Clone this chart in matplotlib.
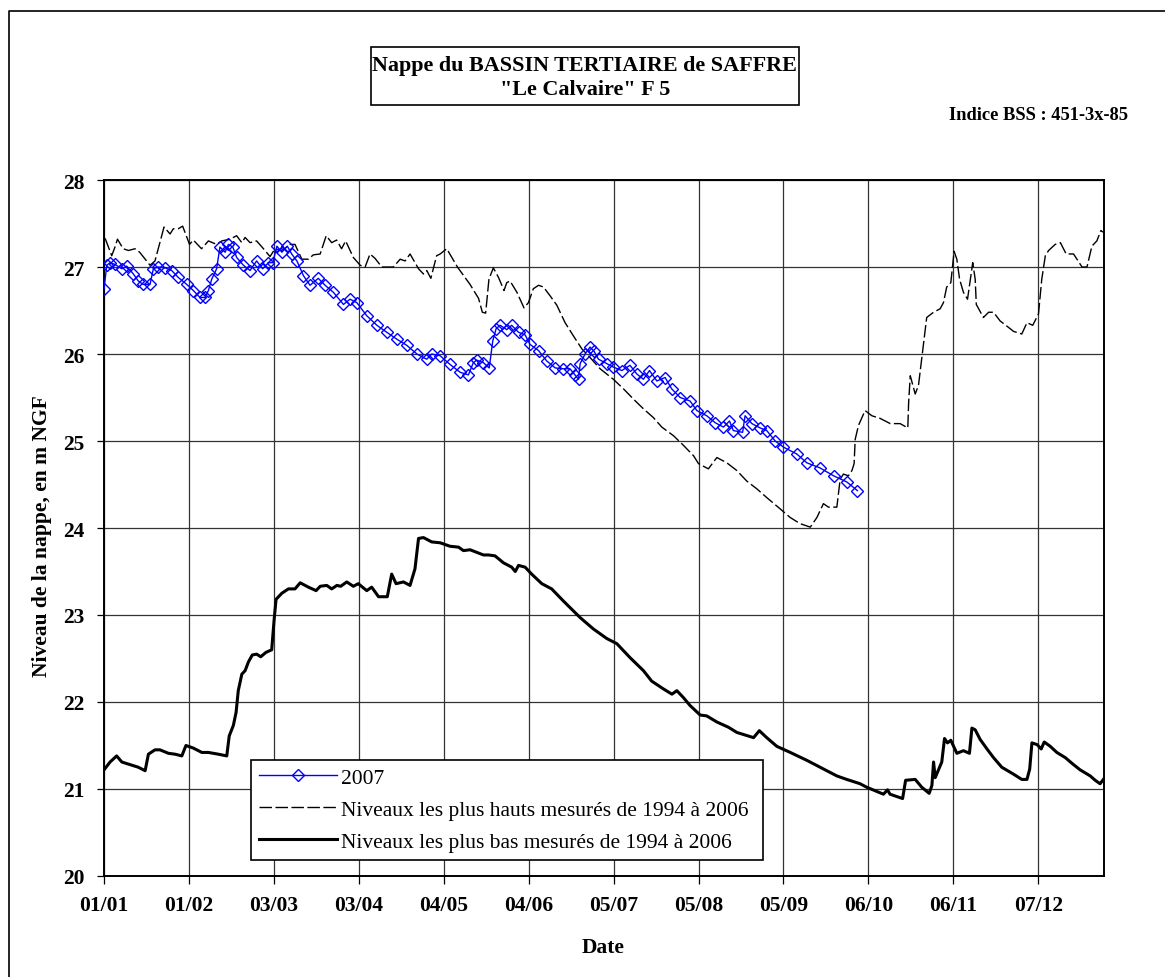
import matplotlib
matplotlib.use("Agg")
import matplotlib.pyplot as plt
from matplotlib.patches import Rectangle
from matplotlib.lines import Line2D

plt.rcParams['font.family'] = ['Liberation Serif', 'DejaVu Serif']

# day of year (0 = 01/01) and level in m NGF
days_2007 = [0, 1, 2.2, 4, 6.5, 8.3, 10.7, 12.5, 14.3, 16.8, 18.0, 19.8, 22.3, 24.7, 27.1, 30.2,
             32.6, 35.0, 36.9, 38.1, 39.3, 41.1, 42.3, 44.2, 45.4, 47.0, 48.4, 50.9, 53.3, 55.7,
             57.9, 60.0, 61.6, 63.1, 64.9, 66.9, 68.5, 70.4, 72.8, 75.2, 78.2, 80.7, 83.7, 87.4,
             89.8, 92.3, 95.9, 99.6, 103.2, 106.9, 110.5, 114.2, 117.8, 119.6, 122.7, 126.3, 130.0,
             133.0, 134.8, 136.0, 138.5, 140.6, 141.9, 143.1, 144.6, 147.0, 148.8, 151.3, 153.7,
             155.5, 158.6, 161.6, 164.7, 167.7, 170.1, 171.9, 173.2, 173.8, 175.6, 177.4, 178.9,
             180.5, 183.5, 185.9, 189.0, 192.0, 194.5, 196.9, 199.1, 201.8, 204.8, 207.2, 210.3,
             213.9, 216.4, 220.0, 223.1, 226.1, 228.3, 229.7, 233.1, 234.0, 236.5, 239.5, 241.9,
             245.0, 248.0, 252.9, 256.5, 261.4, 266.3, 271.1, 275.0]
level_2007 = [26.75, 27.02, 27.05, 27.03, 26.98, 27.01, 26.92, 26.84, 26.80, 26.80, 26.98, 27.00,
              26.99, 26.96, 26.88, 26.80, 26.73, 26.65, 26.65, 26.73, 26.86, 26.98, 27.23, 27.17,
              27.26, 27.23, 27.11, 27.02, 26.96, 27.07, 26.98, 27.05, 27.05, 27.24, 27.17, 27.24,
              27.15, 27.07, 26.90, 26.79, 26.87, 26.79, 26.71, 26.57, 26.63, 26.59, 26.44, 26.33,
              26.25, 26.17, 26.10, 26.00, 25.94, 26.00, 25.98, 25.88, 25.79, 25.76, 25.90, 25.93,
              25.90, 25.84, 26.15, 26.29, 26.33, 26.28, 26.33, 26.25, 26.22, 26.11, 26.04, 25.92,
              25.84, 25.83, 25.83, 25.76, 25.71, 25.89, 26.00, 26.08, 26.03, 25.94, 25.89, 25.85,
              25.81, 25.87, 25.77, 25.71, 25.81, 25.69, 25.73, 25.60, 25.50, 25.46, 25.35, 25.29,
              25.21, 25.16, 25.23, 25.12, 25.10, 25.29, 25.20, 25.15, 25.12, 25.00, 24.93, 24.85,
              24.75, 24.69, 24.60, 24.53, 24.43]

days_high = [0.4, 2.8, 4.0, 4.9, 7.0, 8.9, 11.3, 13.0, 16.8, 18.6, 21.9, 24.1, 25.3, 27.1, 28.7,
             31.2, 32.6, 35.6, 38.1, 41.1, 43.0, 46.0, 48.4, 50.3, 51.5, 53.3, 55.7, 58.2, 60.6,
             62.4, 64.9, 67.9, 69.7, 72.2, 74.6, 76.4, 78.9, 81.1, 83.1, 84.9, 86.7, 88.2, 91.0,
             93.5, 95.3, 97.1, 98.9, 101.4, 105.6, 108.1, 109.9, 111.7, 114.8, 116.6, 117.8, 119.3,
             121.4, 122.7, 125.1, 129.0, 133.6, 136.7, 138.1, 139.3, 140.5, 142.1, 144.0, 146.0,
             147.0, 148.2, 150.7, 153.3, 154.9, 156.7, 158.6, 160.4, 162.8, 165.3, 168.3, 171.3,
             174.4, 177.4, 181.1, 185.9, 189.6, 193.3, 196.9, 200.5, 203.6, 207.9, 211.5, 215.2,
             217.0, 220.6, 223.7, 227.3, 231.0, 234.6, 238.3, 241.9, 246.8, 250.5, 254.1, 257.8,
             260.2, 262.6, 264.4, 267.5, 268.7, 269.9, 271.7, 273.0, 273.8, 274.2, 275.4, 277.8,
             280.3, 283.3, 287.0, 290.6, 293.4, 293.7, 294.3, 296.1, 297.3, 298.9, 300.3, 302.8,
             305.2, 306.4, 307.6, 309.1, 310.3, 311.3, 312.3, 313.7, 315.2, 317.1, 318.0, 318.4,
             321.0, 322.9, 324.7, 327.1, 329.6, 332.0, 335.0, 336.9, 339.0, 341.1, 342.3, 343.6,
             344.8, 347.2, 349.1, 351.2, 353.9, 357.0, 358.8, 360.6, 362.4, 363.9, 364.6]
level_high = [27.33, 27.13, 27.23, 27.32, 27.21, 27.19, 27.21, 27.17, 27.02, 27.07, 27.46, 27.38,
              27.44, 27.44, 27.47, 27.26, 27.31, 27.21, 27.30, 27.26, 27.30, 27.32, 27.36, 27.28,
              27.34, 27.28, 27.30, 27.21, 27.12, 27.21, 27.19, 27.26, 27.26, 27.09, 27.09, 27.14,
              27.15, 27.36, 27.28, 27.31, 27.21, 27.30, 27.11, 27.02, 27.00, 27.15, 27.10, 27.00,
              27.00, 27.09, 27.07, 27.15, 26.98, 26.92, 26.96, 26.87, 27.13, 27.15, 27.21, 27.00,
              26.80, 26.64, 26.48, 26.47, 26.86, 26.99, 26.88, 26.73, 26.82, 26.84, 26.71, 26.53,
              26.59, 26.75, 26.79, 26.77, 26.67, 26.56, 26.36, 26.21, 26.06, 25.96, 25.83, 25.71,
              25.60, 25.48, 25.37, 25.27, 25.16, 25.06, 24.95, 24.83, 24.74, 24.68, 24.81, 24.75,
              24.66, 24.54, 24.45, 24.35, 24.22, 24.12, 24.05, 24.01, 24.12, 24.28, 24.24, 24.24,
              24.56, 24.62, 24.60, 24.66, 24.74, 25.02, 25.18, 25.35, 25.29, 25.26, 25.20, 25.20,
              25.15, 25.44, 25.75, 25.54, 25.64, 26.06, 26.42, 26.48, 26.52, 26.59, 26.77, 26.82,
              27.18, 27.09, 26.86, 26.71, 26.63, 27.05, 26.86, 26.57, 26.42, 26.48, 26.48, 26.38,
              26.32, 26.26, 26.23, 26.36, 26.33, 26.46, 26.86, 27.13, 27.19, 27.26, 27.28, 27.15,
              27.15, 27.00, 27.00, 27.24, 27.30, 27.42, 27.40]

days_low = [0, 2.2, 4.6, 6.5, 9.5, 12.5, 15.0, 16.2, 18.6, 20.4, 23.5, 25.9, 28.4, 29.9, 32.6,
            35.7, 38.1, 41.7, 44.8, 45.7, 47.2, 48.2, 49.0, 50.3, 51.5, 52.7, 54.1, 55.7, 57.2,
            59.1, 61.2, 62.1, 62.8, 64.9, 67.3, 69.7, 71.6, 74.6, 77.4, 78.9, 81.3, 83.1, 85.0,
            86.4, 88.6, 91.0, 92.8, 95.9, 97.7, 100.2, 103.4, 105.0, 106.6, 109.3, 111.7, 113.5,
            114.8, 116.6, 119.6, 122.7, 126.3, 129.4, 131.2, 133.6, 136.1, 138.5, 140.3, 142.7,
            145.8, 148.8, 150.1, 151.3, 153.7, 156.1, 159.8, 163.4, 167.7, 173.8, 178.6, 183.5,
            187.2, 192.0, 196.9, 199.9, 204.2, 207.3, 209.1, 211.5, 213.9, 217.6, 220.0, 223.7,
            227.9, 231.0, 237.1, 239.2, 241.9, 245.6, 250.5, 256.5, 261.4, 267.5, 271.1, 276.0,
            278.4, 284.5, 286.0, 286.9, 291.5, 292.6, 296.1, 298.5, 301.2, 302.2, 302.8, 303.4,
            305.8, 306.8, 307.9, 309.1, 311.3, 313.7, 315.9, 316.8, 318.0, 319.8, 322.3, 324.7,
            327.7, 332.0, 335.0, 336.9, 337.9, 338.7, 340.6, 342.1, 343.2, 345.4, 347.8, 350.9,
            353.9, 356.3, 360.0, 361.8, 363.6, 364.8]
level_low = [21.22, 21.31, 21.38, 21.31, 21.28, 21.25, 21.21, 21.40, 21.45, 21.45, 21.41, 21.40,
             21.38, 21.50, 21.47, 21.42, 21.42, 21.40, 21.38, 21.61, 21.73, 21.88, 22.13, 22.32,
             22.36, 22.46, 22.54, 22.55, 22.52, 22.57, 22.60, 22.95, 23.18, 23.25, 23.30, 23.30,
             23.37, 23.32, 23.28, 23.33, 23.34, 23.30, 23.34, 23.33, 23.38, 23.33, 23.36, 23.28,
             23.32, 23.21, 23.21, 23.47, 23.36, 23.38, 23.34, 23.53, 23.88, 23.89, 23.84, 23.83,
             23.79, 23.78, 23.74, 23.75, 23.72, 23.69, 23.69, 23.68, 23.60, 23.55, 23.50, 23.57,
             23.55, 23.47, 23.36, 23.30, 23.16, 22.97, 22.84, 22.73, 22.67, 22.51, 22.36, 22.24,
             22.15, 22.09, 22.13, 22.05, 21.96, 21.85, 21.84, 21.77, 21.71, 21.65, 21.59, 21.67,
             21.59, 21.49, 21.42, 21.33, 21.25, 21.15, 21.11, 21.06, 21.02, 20.94, 20.99, 20.94,
             20.89, 21.10, 21.11, 21.02, 20.95, 21.04, 21.31, 21.13, 21.31, 21.58, 21.53, 21.56,
             21.41, 21.44, 21.41, 21.70, 21.68, 21.57, 21.46, 21.36, 21.25, 21.17, 21.11, 21.11,
             21.23, 21.53, 21.51, 21.46, 21.54, 21.49, 21.42, 21.36, 21.28, 21.22, 21.15, 21.10,
             21.06, 21.11]

tick_days = [0, 31, 62, 93, 124, 155, 186, 217, 248, 279, 310, 341]
tick_labels = ["01/01", "01/02", "03/03", "03/04", "04/05", "04/06",
               "05/07", "05/08", "05/09", "06/10", "06/11", "07/12"]

fs = 15.5

fig = plt.figure(figsize=(11.65, 9.78), dpi=100)
ax = fig.add_axes([0.0893, 0.1033, 0.8583, 0.7116])

ax.plot(days_2007, level_2007, color='#0000ff', lw=1, marker='D', ms=6.5,
        mfc='none', mec='#0000ff', mew=1, label='2007', zorder=4)
ax.plot(days_high, level_high, color='black', lw=1, dashes=(9, 2.5),
        label='Niveaux les plus hauts mesurés de 1994 à 2006', zorder=3)
ax.plot(days_low, level_low, color='black', lw=2.2,
        label='Niveaux les plus bas mesurés de 1994 à 2006', zorder=3)

ax.set_xlim(0, 365)
ax.set_ylim(20, 28)
ax.set_xticks(tick_days)
ax.set_xticklabels(tick_labels)
ax.set_yticks(range(20, 29))
ax.grid(True, color='#333333', lw=0.9)
ax.set_axisbelow(True)
for sp in ax.spines.values():
    sp.set_linewidth(1.4)
ax.tick_params(axis='x', direction='out', length=6, width=0.9, pad=8, labelsize=fs)
ax.tick_params(axis='y', direction='out', length=5, width=0.9, pad=9, labelsize=fs)
for lab in ax.get_xticklabels() + ax.get_yticklabels():
    lab.set_fontweight('bold')

fig.text(0.036, 0.452, "Niveau de la nappe, en m NGF", rotation=90, ha='center',
         va='center', fontsize=fs, fontweight='bold')
fig.text(0.5176, 0.0307, "Date", ha='center', va='center', fontsize=fs, fontweight='bold')

# legend box placed where the original sits
leg = ax.legend(loc='lower left', bbox_to_anchor=(251 / 1165, 1 - 861 / 978, 512 / 1165, 105 / 978),
                bbox_transform=fig.transFigure, mode='expand', borderaxespad=0, fancybox=False,
                framealpha=1, edgecolor='black', fontsize=fs, handlelength=3.6,
                handletextpad=0.2, labelspacing=0.55, borderpad=0.38)
leg.get_frame().set_linewidth(1.2)

# title box
fig.patches.append(Rectangle((371 / 1165, 1 - 106 / 978), 428 / 1165, 58 / 978,
                             transform=fig.transFigure, fill=False, edgecolor='black', lw=1.2))
fig.text(0.502, 0.9325, "Nappe du BASSIN TERTIAIRE de SAFFRE", ha='center', va='center',
         fontsize=15.9, fontweight='bold')
fig.text(0.502, 0.908, "\"Le Calvaire\" F 5", ha='center', va='center',
         fontsize=15.9, fontweight='bold')
fig.text(0.968, 0.8824, "Indice BSS : 451-3x-85", ha='right', va='center',
         fontsize=13.3, fontweight='bold')

# outer frame (left and top edges only are visible)
fig.lines.append(Line2D([9 / 1165, 9 / 1165, 1.0], [0.0, 1 - 12 / 978, 1 - 12 / 978],
                        transform=fig.transFigure, color='black', lw=1.2))

fig.savefig("out.png", dpi=100)
